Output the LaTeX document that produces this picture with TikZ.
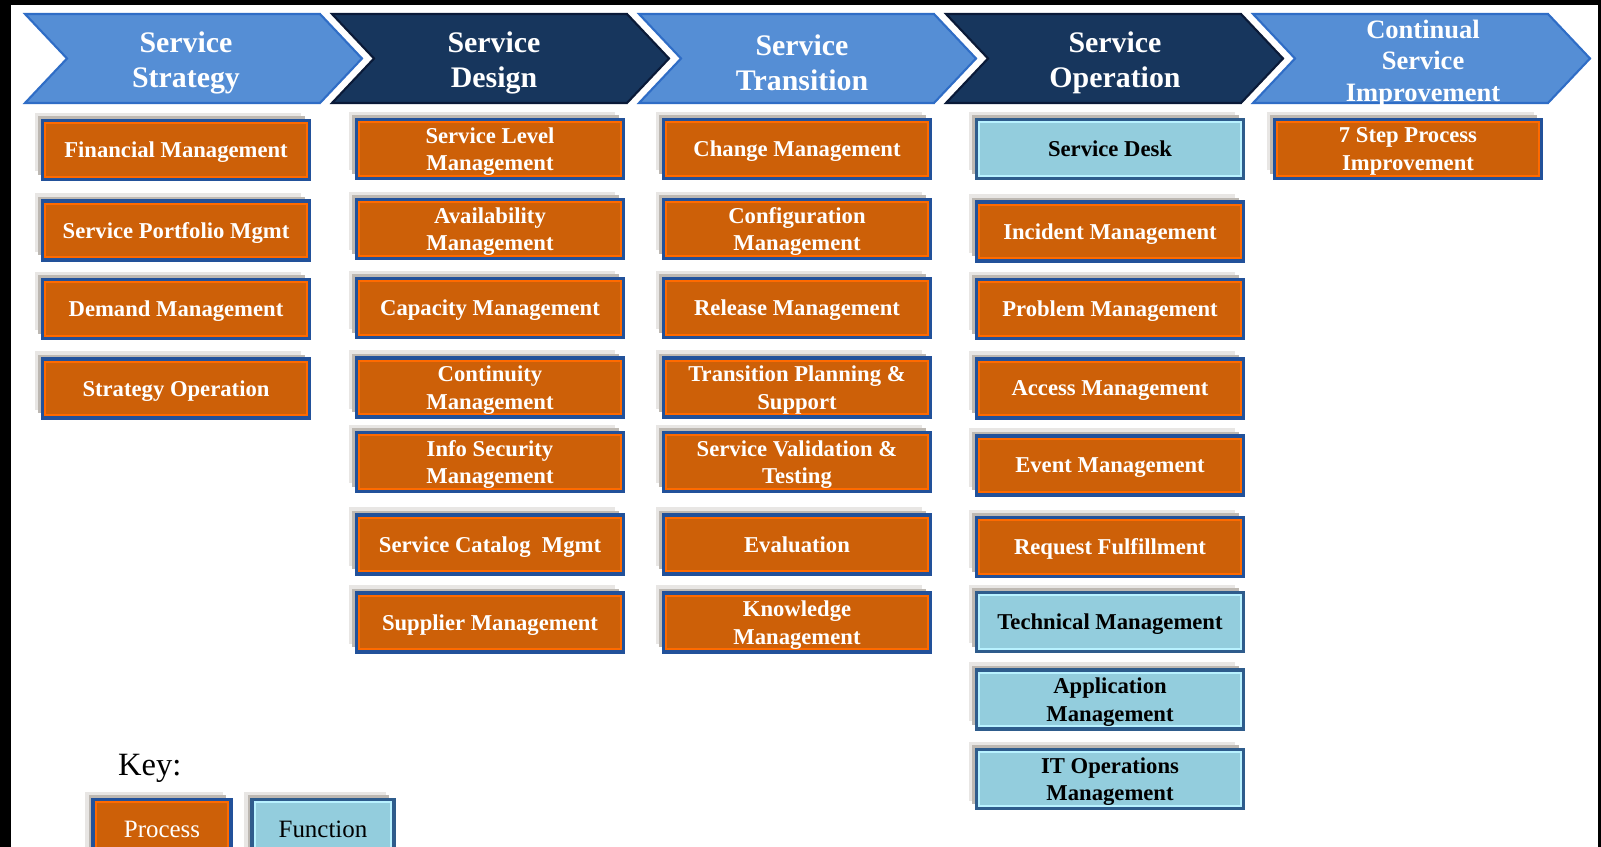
\documentclass[tikz,border=0pt]{standalone}
\usepackage{fontspec}
\setmainfont{Liberation Serif}
\usetikzlibrary{shadows}

\definecolor{lightchev}{HTML}{558ED5}
\definecolor{lightedge}{HTML}{2F6DC6}
\definecolor{darkchev}{HTML}{17365D}
\definecolor{darkedge}{HTML}{0A1A38}
\definecolor{procfill}{HTML}{CD6008}
\definecolor{procline}{HTML}{FF6A00}
\definecolor{boxedge}{HTML}{22519A}
\definecolor{funcfill}{HTML}{93CDDD}
\definecolor{funcline}{HTML}{B8F2FF}
\definecolor{funcedge}{HTML}{2E5C8C}
\definecolor{shadowdark}{HTML}{BDB8B2}
\definecolor{shadowlight}{HTML}{E8E6E4}

\begin{document}
\begin{tikzpicture}
[x=0.02cm, y=-0.02cm,
 box/.style={rectangle, minimum width=5.34cm, minimum height=1.18cm, inner sep=0pt, align=center, text depth=0pt, line width=2.2pt, font=\fontsize{12.9}{15.7}\selectfont\bfseries,
   drop shadow={shadow xshift=-0.16cm, shadow yshift=0.16cm, fill=shadowlight, opacity=1},
   drop shadow={shadow xshift=-0.09cm, shadow yshift=0.09cm, fill=shadowdark, opacity=1}},
 process/.style={box, draw=boxedge, fill=procfill, text=white,
   path picture={\draw[procline, line width=4.4pt] (path picture bounding box.south west) rectangle (path picture bounding box.north east);}},
 function/.style={box, draw=funcedge, fill=funcfill, text=black,
   path picture={\draw[funcline, line width=4.4pt] (path picture bounding box.south west) rectangle (path picture bounding box.north east);}},
 title/.style={text=white, align=center, font=\fontsize{17}{19.9}\selectfont\bfseries},
 lightstage/.style={fill=lightchev, draw=lightedge, line width=1.2pt},
 darkstage/.style={fill=darkchev, draw=darkedge, line width=1.2pt}]

\clip (0,0) rectangle (1601,847);
\fill[black] (0,0) rectangle (1601,847);
\fill[white] (11,5) rectangle (1598,847);

% lifecycle stages
\draw[lightstage] (25,14) -- (320,14) -- (362,58.5) -- (320,103) -- (25,103) -- (67,58.5) -- cycle;
\draw[darkstage] (332,14) -- (627,14) -- (669,58.5) -- (627,103) -- (332,103) -- (374,58.5) -- cycle;
\draw[lightstage] (639,14) -- (934,14) -- (976,58.5) -- (934,103) -- (639,103) -- (681,58.5) -- cycle;
\draw[darkstage] (946,14) -- (1241,14) -- (1283,58.5) -- (1241,103) -- (946,103) -- (988,58.5) -- cycle;
\draw[lightstage] (1253,14) -- (1548,14) -- (1590,58.5) -- (1548,103) -- (1253,103) -- (1295,58.5) -- cycle;

\node (strategy) at (186,63) [title] {Service\\Strategy};
\node (design) at (494,63) [title] {Service\\Design};
\node (transition) at (802,63) [title] {Service\\Transition};
\node (operation) at (1115,63) [title] {Service\\Operation};
\node (improvement) at (1423,63.5) [title, font=\fontsize{15.1}{18}\selectfont\bfseries] {Continual\\Service\\Improvement};

% strategy
\node (fin) at (176,150) [process] {Financial Management};
\node (portfolio) at (176,230.5) [process] {Service Portfolio Mgmt};
\node (demand) at (176,309) [process] {Demand Management};
\node (stratop) at (176,388.5) [process] {Strategy Operation};

% design
\node (slm) at (490,149) [process] {Service Level\\Management};
\node (avail) at (490,229) [process] {Availability\\Management};
\node (capacity) at (490,308) [process] {Capacity Management};
\node (continuity) at (490,387.5) [process] {Continuity\\Management};
\node (infosec) at (490,462) [process] {Info Security\\Management};
\node (catalog) at (490,544.5) [process] {Service Catalog~ Mgmt};
\node (supplier) at (490,622.5) [process] {Supplier Management};

% transition
\node (change) at (797,149) [process] {Change Management};
\node (config) at (797,229) [process] {Configuration\\Management};
\node (release) at (797,308) [process] {Release Management};
\node (transplan) at (797,387.5) [process] {Transition Planning \&\\Support};
\node (validation) at (797,462) [process] {Service Validation \&\\Testing};
\node (evaluation) at (797,544.5) [process] {Evaluation};
\node (knowledge) at (797,622.5) [process] {Knowledge\\Management};

% operation
\node (desk) at (1110,149) [function] {Service Desk};
\node (incident) at (1110,231.5) [process] {Incident Management};
\node (problem) at (1110,309) [process] {Problem Management};
\node (access) at (1110,388.5) [process] {Access Management};
\node (event) at (1110,465.5) [process] {Event Management};
\node (request) at (1110,547) [process] {Request Fulfillment};
\node (technical) at (1110,622) [function] {Technical Management};
\node (application) at (1110,699.5) [function] {Application\\Management};
\node (itops) at (1110,779) [function] {IT Operations\\Management};

% improvement
\node (csi7) at (1408,149) [process] {7 Step Process\\Improvement};

% key
\node (key) at (112,775) [anchor=base west, font=\fontsize{18.5}{22}\selectfont] {Key:};
\node (keyproc) at (162,829) [process, minimum width=2.76cm, font=\fontsize{14.2}{17}\selectfont] {Process};
\node (keyfunc) at (323,829) [function, minimum width=2.84cm, font=\fontsize{14.2}{17}\selectfont] {Function};
\end{tikzpicture}
\end{document}
